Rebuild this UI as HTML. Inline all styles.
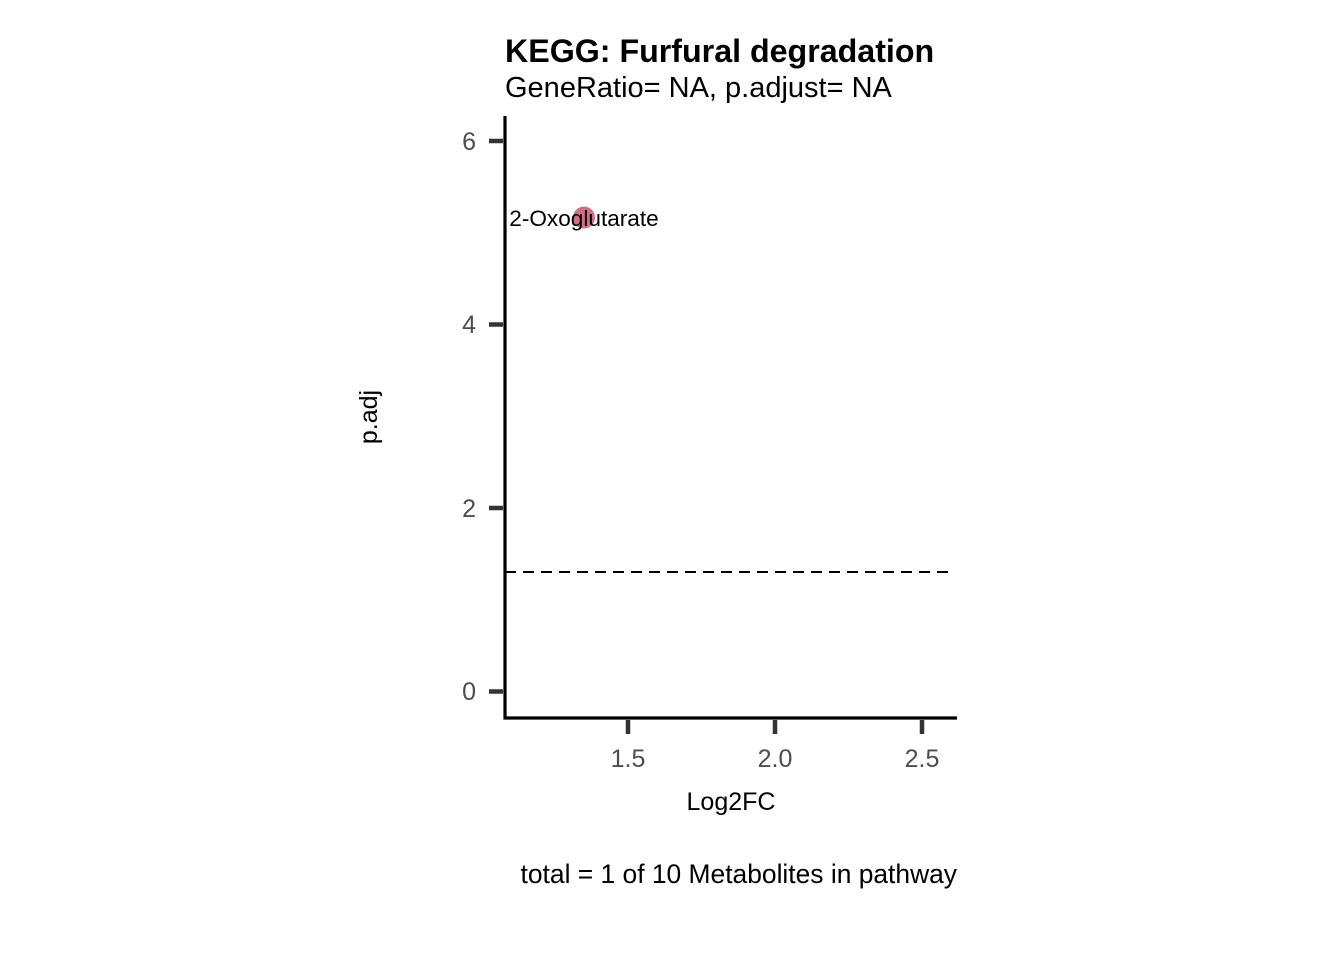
<!DOCTYPE html>
<html><head><meta charset="utf-8"><style>body{margin:0;background:#fff}svg{display:block}text{font-family:"Liberation Sans",sans-serif}</style></head>
<body>
<svg width="1344" height="960" viewBox="0 0 1344 960">
<rect width="1344" height="960" fill="#fff"/>
<text x="505" y="62" font-size="32.2" font-weight="bold" fill="#000">KEGG: Furfural degradation</text>
<text x="505" y="97" font-size="29" fill="#000">GeneRatio= NA, p.adjust= NA</text>
<line x1="505" y1="572" x2="950" y2="572" stroke="#000" stroke-width="2" stroke-dasharray="11,7"/>
<circle cx="584" cy="217.5" r="11" fill="#c7586c" fill-opacity="0.85"/>
<text x="584" y="226" font-size="22.6" text-anchor="middle" fill="#000">2-Oxoglutarate</text>
<line x1="505" y1="116" x2="505" y2="719.5" stroke="#000" stroke-width="3.2"/>
<line x1="503.5" y1="718" x2="957" y2="718" stroke="#000" stroke-width="3.2"/>
<g stroke="#333" stroke-width="4.5">
<line x1="489" y1="141" x2="503" y2="141"/>
<line x1="489" y1="324.5" x2="503" y2="324.5"/>
<line x1="489" y1="508" x2="503" y2="508"/>
<line x1="489" y1="691.5" x2="503" y2="691.5"/>
<line x1="628" y1="720" x2="628" y2="734"/>
<line x1="775" y1="720" x2="775" y2="734"/>
<line x1="922" y1="720" x2="922" y2="734"/>
</g>
<g font-size="25" fill="#4d4d4d" text-anchor="end">
<text x="476" y="150">6</text>
<text x="476" y="333">4</text>
<text x="476" y="517">2</text>
<text x="476" y="700">0</text>
</g>
<g font-size="25" fill="#4d4d4d" text-anchor="middle">
<text x="628" y="767">1.5</text>
<text x="775" y="767">2.0</text>
<text x="922" y="767">2.5</text>
</g>
<text x="731" y="810" font-size="25" text-anchor="middle" fill="#000">Log2FC</text>
<text transform="translate(377,417) rotate(-90)" font-size="25" text-anchor="middle" fill="#000">p.adj</text>
<text x="957" y="883" font-size="26.4" text-anchor="end" fill="#000">total = 1 of 10 Metabolites in pathway</text>
</svg>
</body></html>
